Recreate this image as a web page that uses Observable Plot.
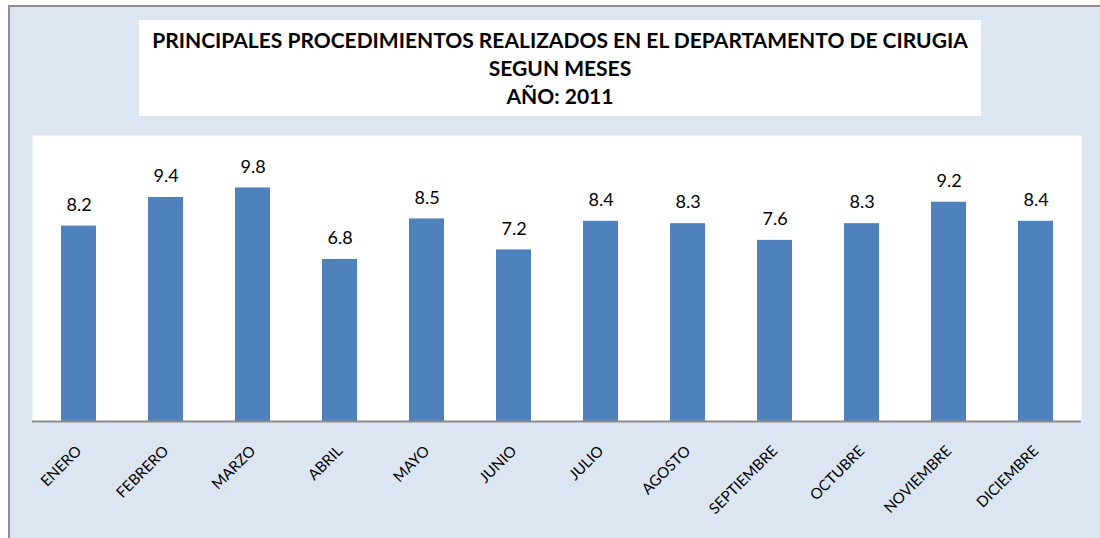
<!DOCTYPE html>
<html>
<head>
<meta charset="utf-8">
<script src="https://cdn.jsdelivr.net/npm/d3@7"></script>
<script src="https://cdn.jsdelivr.net/npm/@observablehq/plot@0.6"></script>
<style>
  html, body { margin: 0; padding: 0; background: #ffffff; }
  #wrap { position: relative; width: 1100px; height: 538px; overflow: hidden; font-family: Lato, "Open Sans", sans-serif; }
  #bg { position: absolute; left: 8px; top: 5px; width: 1100px; height: 540px; background: #dce6f2; border-top: 2px solid #8f8f8f; border-left: 2px solid #8f8f8f; }
  #titlebox { position: absolute; left: 139px; top: 20px; width: 842px; height: 96px; background: #ffffff; text-align: center; }
  #titlebox div { font-weight: bold; font-size: 21px; line-height: 28px; color: #000; }
  #titlebox .first { margin-top: 6px; }
  #chart { position: absolute; left: 0; top: 0; }
</style>
</head>
<body>
<div id="wrap">
  <div id="bg"></div>
  <div id="titlebox">
    <div class="first" id="t1"></div>
    <div id="t2"></div>
    <div id="t3"></div>
  </div>
  <div id="chart"></div>
</div>
<script>
const titleLines = [
  "PRINCIPALES PROCEDIMIENTOS REALIZADOS EN EL DEPARTAMENTO DE CIRUGIA",
  "SEGUN MESES",
  "AÑO: 2011"
];
const months = ["ENERO", "FEBRERO", "MARZO", "ABRIL", "MAYO", "JUNIO", "JULIO", "AGOSTO", "SEPTIEMBRE", "OCTUBRE", "NOVIEMBRE", "DICIEMBRE"];
const values = [8.2, 9.4, 9.8, 6.8, 8.5, 7.2, 8.4, 8.3, 7.6, 8.3, 9.2, 8.4];

document.getElementById("t1").textContent = titleLines[0];
document.getElementById("t2").textContent = titleLines[1];
document.getElementById("t3").textContent = titleLines[2];

const data = months.map((m, i) => ({month: m, value: values[i]}));

const chart = Plot.plot({
  width: 1100,
  height: 538,
  marginLeft: 32,
  marginRight: 19,
  marginTop: 135,
  marginBottom: 117,
  style: {background: "transparent", fontFamily: "Lato, 'Open Sans', sans-serif", overflow: "visible"},
  x: {domain: months, paddingInner: 0.6, paddingOuter: 0.3, label: null},
  y: {domain: [0, 12], axis: null},
  marks: [
    Plot.frame({fill: "white", stroke: null}),
    Plot.barY(data, {x: "month", y: "value", fill: "#4f81bd"}),
    Plot.text(data, {x: "month", y: "value", text: d => d.value.toFixed(1), dy: -21, fontSize: 18, fill: "#000"}),
    Plot.ruleY([0], {stroke: "#8c8c8c", strokeWidth: 2}),
    Plot.axisX({tickSize: 0, tickPadding: 27, tickRotate: -45, fontSize: 15, color: "#000", label: null})
  ]
});
document.getElementById("chart").appendChild(chart);
</script>
</body>
</html>
